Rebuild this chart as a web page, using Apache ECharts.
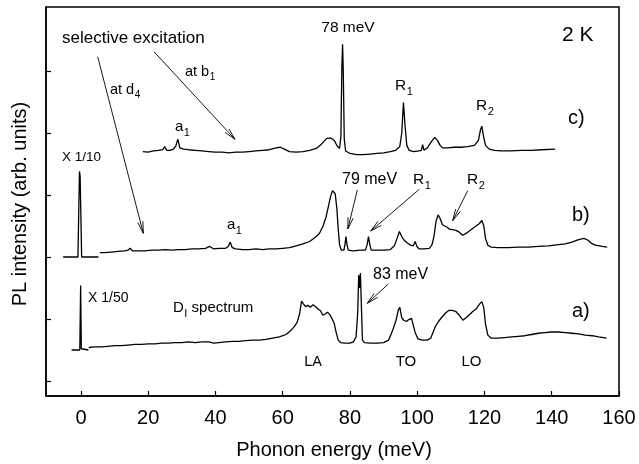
<!DOCTYPE html>
<html>
<head>
<meta charset="utf-8">
<script src="https://cdn.jsdelivr.net/npm/echarts@6/dist/echarts.min.js"></script>
<style>
  html, body { margin: 0; padding: 0; background: #fff; }
  #chart { width: 639px; height: 464px; }
</style>
</head>
<body>
<div id="chart"></div>
<script>
const FONT = '"Liberation Sans", Arial, Helvetica, sans-serif';

// Axis ticks
const energyTicks = [0, 20, 40, 60, 80, 100, 120, 140, 160];
const intensityTicks = [0, 1, 2, 3, 4, 5];

// a) D_I spectrum (offset 0.5), laser line at 0 scaled x 1/50
const laserAEnergy = [-2.8, -0.35, -0.1, 0.1, 0.3, 2.2];
const laserAIntensity = [0.50, 0.50, 1.54, 0.52, 0.50, 0.50];
const traceAEnergy = [2.3, 4, 6, 8, 10, 12, 14, 16, 18, 20, 22, 24, 26, 28, 30, 32, 34, 36, 38, 39.5, 41, 43, 45, 47, 49, 51, 53, 55, 57, 59, 61, 62.5, 63.5, 64.3, 65, 65.6, 66.2, 66.8, 67.5, 68.2, 69, 69.7, 70.5, 71.3, 71.9, 72.6, 73.3, 74, 74.7, 75.3, 75.9, 76.5, 77.2, 78.5, 80, 81, 81.8, 82.3, 82.6, 82.9, 83.1, 83.4, 83.7, 84.3, 86, 88, 90, 91.5, 92.7, 93.7, 94.4, 94.8, 95.4, 96, 96.8, 97.5, 98.3, 98.8, 99.4, 100.2, 101.5, 103, 104, 104.8, 105.4, 106.3, 107.5, 108.5, 109.5, 110.5, 111.5, 112.5, 113.6, 114.5, 115.5, 116.5, 117.5, 118.5, 119.2, 119.8, 120.3, 121, 122, 124, 126, 128, 130, 132, 134, 136, 138, 140, 142, 144, 146, 148, 150, 152, 154, 156.3];
const traceAIntensity = [0.54, 0.55, 0.55, 0.56, 0.57, 0.57, 0.58, 0.59, 0.59, 0.60, 0.60, 0.61, 0.61, 0.62, 0.62, 0.63, 0.62, 0.63, 0.63, 0.61, 0.62, 0.63, 0.64, 0.64, 0.65, 0.66, 0.66, 0.67, 0.69, 0.71, 0.75, 0.82, 0.88, 0.95, 1.08, 1.29, 1.24, 1.20, 1.22, 1.19, 1.23, 1.20, 1.16, 1.13, 1.06, 1.08, 1.11, 1.07, 1.00, 0.93, 0.78, 0.66, 0.62, 0.61, 0.61, 0.63, 0.71, 1.10, 1.71, 1.50, 1.74, 1.20, 0.66, 0.62, 0.61, 0.61, 0.62, 0.66, 0.82, 0.98, 1.15, 1.19, 1.02, 0.98, 0.96, 0.99, 1.01, 0.98, 0.78, 0.68, 0.66, 0.66, 0.69, 0.80, 0.88, 0.96, 1.04, 1.10, 1.14, 1.14, 1.12, 1.06, 0.98, 1.02, 1.07, 1.12, 1.16, 1.24, 1.28, 1.18, 0.92, 0.74, 0.69, 0.69, 0.70, 0.71, 0.72, 0.73, 0.75, 0.77, 0.78, 0.79, 0.79, 0.78, 0.77, 0.76, 0.74, 0.73, 0.71, 0.69];

// b) selective excitation at d4 (offset 2), laser line scaled x 1/10
const laserBEnergy = [-5.3, -0.9, -0.45, -0.25, 0.2, 5.2];
const laserBIntensity = [2.00, 2.00, 3.38, 3.30, 2.00, 2.00];
const traceBEnergy = [5.6, 7, 9, 11, 13, 14, 14.6, 15.3, 17, 19, 21, 23, 25, 27, 29, 31, 33, 35, 37, 38.3, 39.5, 41, 43, 43.8, 44.4, 45, 46, 48, 50, 52, 54, 56, 58, 60, 62, 64, 66, 68, 69.5, 70.9, 72, 72.9, 73.6, 74.2, 74.8, 75.2, 75.6, 76.1, 76.5, 76.9, 77.4, 78.2, 78.5, 78.8, 79.1, 79.5, 81, 83, 84.6, 85.1, 85.5, 85.9, 86.3, 88, 90, 92, 93.2, 94.0, 94.7, 95.4, 96.1, 97, 98, 98.8, 99.4, 99.9, 100.6, 102, 103.6, 104.4, 105, 105.6, 106.2, 106.8, 107.5, 108.2, 108.9, 109.5, 110.5, 111.5, 112.5, 113.5, 114.5, 115.5, 116.5, 117.5, 118.5, 119.2, 119.8, 120.3, 121, 122, 124, 127, 130, 133, 136, 139, 142, 144, 146, 148, 149.6, 150.8, 151.8, 153, 155, 156.5];
const traceBIntensity = [2.07, 2.07, 2.08, 2.09, 2.10, 2.11, 2.14, 2.10, 2.10, 2.10, 2.11, 2.11, 2.12, 2.11, 2.12, 2.12, 2.13, 2.13, 2.14, 2.17, 2.13, 2.14, 2.14, 2.17, 2.24, 2.15, 2.13, 2.12, 2.12, 2.13, 2.12, 2.13, 2.13, 2.14, 2.15, 2.18, 2.21, 2.25, 2.31, 2.38, 2.50, 2.65, 2.82, 2.97, 3.07, 3.09, 3.02, 2.78, 2.45, 2.20, 2.11, 2.11, 2.20, 2.33, 2.20, 2.11, 2.10, 2.11, 2.11, 2.20, 2.33, 2.20, 2.11, 2.11, 2.11, 2.12, 2.18, 2.30, 2.41, 2.33, 2.27, 2.23, 2.19, 2.18, 2.25, 2.17, 2.13, 2.13, 2.14, 2.20, 2.34, 2.58, 2.68, 2.62, 2.52, 2.50, 2.48, 2.45, 2.44, 2.43, 2.40, 2.35, 2.38, 2.42, 2.46, 2.50, 2.54, 2.59, 2.50, 2.30, 2.19, 2.16, 2.15, 2.15, 2.16, 2.16, 2.17, 2.18, 2.20, 2.21, 2.24, 2.28, 2.30, 2.27, 2.22, 2.19, 2.17, 2.16];

// c) selective excitation at b1 (offset ~3.7)
const traceCEnergy = [18.4, 20, 21.5, 23, 24.3, 24.9, 25.5, 26.5, 27.5, 28.2, 28.8, 29.4, 30.5, 32, 34, 36, 38, 40, 42, 44, 46, 48, 50, 52, 54, 56, 58, 59.3, 60.5, 62, 64, 66, 68, 70, 71.5, 73, 74.3, 75.3, 76.2, 76.9, 77.3, 77.6, 77.8, 78.0, 78.3, 78.7, 80, 82, 84, 86, 88, 90, 92, 93.6, 94.8, 95.4, 95.9, 96.4, 96.9, 97.6, 99, 100.5, 101.2, 101.6, 102, 103, 104.2, 105.2, 106, 106.8, 107.5, 109, 111, 113, 115, 117, 118.2, 118.8, 119.2, 119.7, 120.3, 121.4, 123, 125, 128, 131, 134, 137, 141];
const traceCIntensity = [3.70, 3.69, 3.71, 3.72, 3.73, 3.78, 3.72, 3.72, 3.74, 3.79, 3.90, 3.76, 3.74, 3.73, 3.72, 3.71, 3.70, 3.69, 3.69, 3.68, 3.69, 3.69, 3.70, 3.71, 3.72, 3.73, 3.76, 3.77, 3.74, 3.70, 3.69, 3.70, 3.72, 3.75, 3.82, 3.91, 3.92, 3.88, 3.79, 3.75, 3.95, 5.10, 5.43, 5.00, 3.90, 3.71, 3.67, 3.65, 3.65, 3.66, 3.67, 3.68, 3.70, 3.72, 3.78, 4.00, 4.49, 4.10, 3.80, 3.72, 3.70, 3.71, 3.72, 3.81, 3.72, 3.76, 3.86, 3.93, 3.88, 3.80, 3.76, 3.76, 3.77, 3.77, 3.78, 3.80, 3.88, 4.05, 4.11, 3.95, 3.80, 3.74, 3.72, 3.71, 3.71, 3.72, 3.72, 3.73, 3.74];

function pairs(xs, ys) { return xs.map((x, i) => [x, ys[i]]); }

function spectrum(name, xs, ys) {
  return {
    type: 'line', name: name, data: pairs(xs, ys),
    showSymbol: false, symbol: 'none', smooth: false,
    lineStyle: { color: '#000', width: 1.3 },
    silent: true, animation: false, z: 3
  };
}

// ---- annotation helpers ----
const measureCtx = document.createElement('canvas').getContext('2d');
function textWidth(str, size) {
  measureCtx.font = size + 'px ' + FONT;
  return measureCtx.measureText(str).width;
}
// parts: [[text, isSubscript], ...]
function richLabel(x, y, parts, size, align) {
  const subSize = Math.round(size * 0.7);
  const widths = parts.map(p => textWidth(p[0], p[1] ? subSize : size) + (p[1] ? 0.5 : 0));
  const total = widths.reduce((s, w) => s + w, 0);
  let cx = align === 'center' ? x - total / 2 : x;
  const out = [];
  parts.forEach((p, i) => {
    out.push({
      type: 'text', x: cx + (p[1] ? 0.5 : 0), y: p[1] ? y + size * 0.38 : y, silent: true,
      style: { text: p[0], fontSize: p[1] ? subSize : size, fontFamily: FONT, fill: '#000', align: 'left', verticalAlign: 'middle' }
    });
    cx += widths[i];
  });
  return out;
}
function arrow(x1, y1, x2, y2) {
  const L = 12, th = 0.22;
  const a = Math.atan2(y2 - y1, x2 - x1);
  const p1 = [x2 - L * Math.cos(a - th), y2 - L * Math.sin(a - th)];
  const p2 = [x2 - L * Math.cos(a + th), y2 - L * Math.sin(a + th)];
  return [
    { type: 'line', silent: true, shape: { x1: x1, y1: y1, x2: x2, y2: y2 }, style: { stroke: '#000', lineWidth: 0.9 } },
    { type: 'polyline', silent: true, shape: { points: [p1, [x2, y2], p2] }, style: { stroke: '#000', fill: null, lineWidth: 0.9 } }
  ];
}

const graphics = [].concat(
  richLabel(62, 38, [['selective excitation', false]], 17, 'left'),
  richLabel(110, 90, [['at d', false], ['4', true]], 14.5, 'left'),
  richLabel(185, 72, [['at b', false], ['1', true]], 14.5, 'left'),
  richLabel(175, 127, [['a', false], ['1', true]], 15, 'left'),
  richLabel(227, 225, [['a', false], ['1', true]], 15, 'left'),
  richLabel(62, 157, [['X 1/10', false]], 13.5, 'left'),
  richLabel(348, 28, [['78 meV', false]], 15.5, 'center'),
  richLabel(562, 35, [['2 K', false]], 21, 'left'),
  richLabel(395, 86, [['R', false], ['1', true]], 15.5, 'left'),
  richLabel(476, 106, [['R', false], ['2', true]], 15.5, 'left'),
  richLabel(568, 118, [['c)', false]], 20, 'left'),
  richLabel(342, 180, [['79 meV', false]], 16, 'left'),
  richLabel(413, 180, [['R', false], ['1', true]], 15.5, 'left'),
  richLabel(467, 180, [['R', false], ['2', true]], 15.5, 'left'),
  richLabel(572, 215, [['b)', false]], 20, 'left'),
  richLabel(373, 275, [['83 meV', false]], 16, 'left'),
  richLabel(572, 311, [['a)', false]], 20, 'left'),
  richLabel(88, 298, [['X 1/50', false]], 14, 'left'),
  richLabel(173, 308, [['D', false], ['I', true], [' spectrum', false]], 15, 'left'),
  richLabel(313, 362, [['LA', false]], 14.5, 'center'),
  richLabel(406, 362, [['TO', false]], 15, 'center'),
  richLabel(471.5, 362, [['LO', false]], 15, 'center'),
  arrow(97.7, 56.7, 143.3, 233.3),
  arrow(154, 51.7, 235, 139.3),
  arrow(357.3, 190, 347.8, 229),
  arrow(419.3, 189.3, 370.7, 231),
  arrow(467.7, 190.7, 452.7, 220.7),
  arrow(388.3, 284, 367.3, 303.3),
  [
    { type: 'text', x: 334, y: 450, silent: true,
      style: { text: 'Phonon energy (meV)', fontSize: 20, fontFamily: FONT, fill: '#000', align: 'center', verticalAlign: 'middle' } },
    { type: 'text', x: 20, y: 204, rotation: Math.PI / 2, silent: true,
      style: { text: 'PL intensity (arb. units)', fontSize: 20, fontFamily: FONT, fill: '#000', align: 'center', verticalAlign: 'middle' } }
  ]
);

const chart = echarts.init(document.getElementById('chart'), null, { renderer: 'canvas' });
chart.setOption({
  animation: false,
  backgroundColor: '#fff',
  grid: { left: 46, right: 20, top: 7, bottom: 68, show: true, borderColor: '#000', borderWidth: 1.5, backgroundColor: 'transparent' },
  xAxis: {
    type: 'value', min: -10.4, max: 160,
    axisLine: { show: true, onZero: false, lineStyle: { color: '#000', width: 1.5 } },
    axisTick: { show: true, inside: true, length: 5, customValues: energyTicks, lineStyle: { color: '#000', width: 1.2 } },
    axisLabel: { show: true, customValues: energyTicks, fontSize: 20, fontFamily: FONT, color: '#000', margin: 12 },
    splitLine: { show: false }
  },
  yAxis: {
    type: 'value', min: -0.242, max: 6.032,
    axisLine: { show: true, onZero: false, lineStyle: { color: '#000', width: 1.5 } },
    axisTick: { show: true, inside: true, length: 5, customValues: intensityTicks, lineStyle: { color: '#000', width: 1.2 } },
    axisLabel: { show: false },
    splitLine: { show: false }
  },
  series: [
    spectrum('a) laser', laserAEnergy, laserAIntensity),
    spectrum('a) D_I spectrum', traceAEnergy, traceAIntensity),
    spectrum('b) laser', laserBEnergy, laserBIntensity),
    spectrum('b) at d4', traceBEnergy, traceBIntensity),
    spectrum('c) at b1', traceCEnergy, traceCIntensity)
  ],
  graphic: graphics
});
</script>
</body>
</html>
